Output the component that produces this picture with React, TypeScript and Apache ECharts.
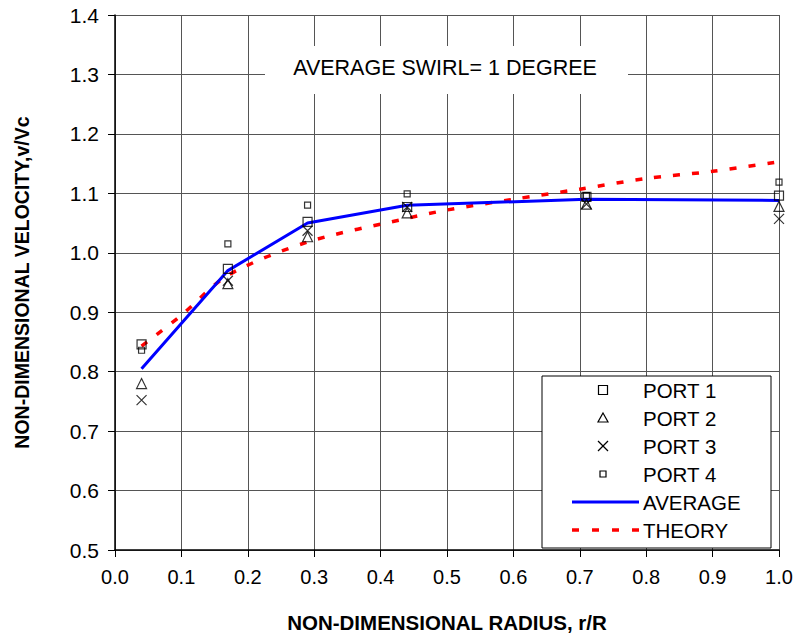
import React, { useEffect, useRef } from "react";
import * as echarts from "echarts";

const X_R = [0.04, 0.17, 0.29, 0.44, 0.71, 1.0];
const PORT1 = [0.846, 0.973, 1.052, 1.077, 1.094, 1.096];
const PORT2 = [0.78, 0.948, 1.027, 1.067, 1.082, 1.078];
const PORT3 = [0.752, 0.953, 1.037, 1.077, 1.082, 1.057];
const PORT4 = [0.836, 1.015, 1.08, 1.099, 1.096, 1.119];
const AVERAGE = [0.805, 0.97, 1.05, 1.08, 1.09, 1.088];
const THEORY_R = [0.04, 0.1, 0.17, 0.29, 0.44, 0.5, 0.6, 0.7, 0.8, 0.9, 1.0];
const THEORY = [0.843, 0.895, 0.962, 1.018, 1.058, 1.072, 1.09, 1.107, 1.125, 1.137, 1.153];
const LEGEND_LABELS = ["PORT 1", "PORT 2", "PORT 3", "PORT 4", "AVERAGE", "THEORY"];
const ANNOTATION = "AVERAGE SWIRL= 1 DEGREE";
const X_TITLE = "NON-DIMENSIONAL RADIUS, r/R";
const Y_TITLE = "NON-DIMENSIONAL VELOCITY,v/Vc";

const FONT = "'Liberation Sans', Arial, sans-serif";
const X_SYMBOL = "path://M0,0L10,10M10,0L0,10";

const pairs = (xs: number[], ys: number[]) => xs.map((x, i) => [x, ys[i]]);

export default function App() {
  const ref = useRef<HTMLDivElement>(null);
  useEffect(() => {
    if (!ref.current) return;
    const chart = echarts.init(ref.current, null, { renderer: "svg" });
    const hollow = { color: "rgba(0,0,0,0)", borderColor: "#000", borderWidth: 1.2 };

    const lx = 603;
    const tx = 643;
    const rows = [390, 418, 446, 474, 502, 530];
    const legendGraphics: any[] = [
      {
        type: "rect",
        shape: { x: 542, y: 376, width: 229, height: 172 },
        style: { fill: "#fff", stroke: "#000", lineWidth: 1 },
        z: 10,
      },
      {
        type: "rect",
        shape: { x: lx - 4.5, y: rows[0] - 4.5, width: 9, height: 9 },
        style: { fill: "none", stroke: "#000", lineWidth: 1.2 },
        z: 11,
      },
      {
        type: "polygon",
        shape: { points: [[lx, rows[1] - 5], [lx + 5, rows[1] + 4], [lx - 5, rows[1] + 4]] },
        style: { fill: "none", stroke: "#000", lineWidth: 1.2 },
        z: 11,
      },
      {
        type: "line",
        shape: { x1: lx - 5, y1: rows[2] - 5, x2: lx + 5, y2: rows[2] + 5 },
        style: { stroke: "#000", lineWidth: 1.2 },
        z: 11,
      },
      {
        type: "line",
        shape: { x1: lx + 5, y1: rows[2] - 5, x2: lx - 5, y2: rows[2] + 5 },
        style: { stroke: "#000", lineWidth: 1.2 },
        z: 11,
      },
      {
        type: "rect",
        shape: { x: lx - 3, y: rows[3] - 3, width: 6, height: 6 },
        style: { fill: "none", stroke: "#000", lineWidth: 1.2 },
        z: 11,
      },
      {
        type: "line",
        shape: { x1: 572, y1: rows[4], x2: 639, y2: rows[4] },
        style: { stroke: "#0000FF", lineWidth: 3 },
        z: 11,
      },
      {
        type: "line",
        shape: { x1: 572, y1: rows[5], x2: 639, y2: rows[5] },
        style: { stroke: "#FF0000", lineWidth: 3.5, lineDash: [7, 13] },
        z: 11,
      },
      ...LEGEND_LABELS.map((t, i) => ({
        type: "text",
        x: tx,
        y: rows[i],
        style: {
          text: t,
          fill: "#000",
          font: `20.5px ${FONT}`,
          textVerticalAlign: "middle",
          textAlign: "left",
        },
        z: 11,
      })),
    ];

    chart.setOption({
      animation: false,
      backgroundColor: "#fff",
      grid: { left: 115, right: 17, top: 15, bottom: 83, show: false },
      xAxis: {
        type: "value",
        min: 0,
        max: 1,
        interval: 0.1,
        name: X_TITLE,
        nameLocation: "middle",
        nameGap: 62,
        nameTextStyle: { fontFamily: FONT, fontWeight: "bold", fontSize: 20.5, color: "#000" },
        axisLine: { show: true, lineStyle: { color: "#000", width: 1.5 } },
        axisTick: { show: true, length: 7, lineStyle: { color: "#000" } },
        axisLabel: {
          formatter: (v: number) => v.toFixed(1),
          fontFamily: FONT,
          fontSize: 20,
          color: "#000",
          margin: 17,
        },
        splitLine: { show: true, lineStyle: { color: "#555", width: 1 } },
      },
      yAxis: {
        type: "value",
        min: 0.5,
        max: 1.4,
        interval: 0.1,
        name: Y_TITLE,
        nameLocation: "middle",
        nameGap: 83,
        nameTextStyle: { fontFamily: FONT, fontWeight: "bold", fontSize: 19.5, color: "#000" },
        axisLine: { show: true, lineStyle: { color: "#000", width: 1.5 } },
        axisTick: { show: true, length: 7, lineStyle: { color: "#000" } },
        axisLabel: {
          formatter: (v: number) => v.toFixed(1),
          fontFamily: FONT,
          fontSize: 21,
          color: "#000",
          margin: 16,
        },
        splitLine: { show: true, lineStyle: { color: "#555", width: 1 } },
      },
      graphic: [
        {
          type: "rect",
          shape: { x: 265, y: 46, width: 363, height: 48 },
          style: { fill: "#fff" },
          z: 1,
        },
        {
          type: "text",
          x: 445,
          y: 68,
          style: {
            text: ANNOTATION,
            fill: "#000",
            font: `21.5px ${FONT}`,
            textAlign: "center",
            textVerticalAlign: "middle",
          },
          z: 2,
        },
        ...legendGraphics,
      ],
      series: [
        {
          name: "THEORY",
          type: "line",
          data: pairs(THEORY_R, THEORY),
          showSymbol: false,
          smooth: 0.3,
          lineStyle: { color: "#FF0000", width: 3.5, type: [7, 12] },
          z: 3,
        },
        {
          name: "AVERAGE",
          type: "line",
          data: pairs(X_R, AVERAGE),
          showSymbol: false,
          lineStyle: { color: "#0000FF", width: 3 },
          z: 4,
        },
        {
          name: "PORT 1",
          type: "scatter",
          data: pairs(X_R, PORT1),
          symbol: "rect",
          symbolSize: 9,
          itemStyle: hollow,
          z: 5,
        },
        {
          name: "PORT 2",
          type: "scatter",
          data: pairs(X_R, PORT2),
          symbol: "triangle",
          symbolSize: 10,
          itemStyle: hollow,
          z: 5,
        },
        {
          name: "PORT 3",
          type: "scatter",
          data: pairs(X_R, PORT3),
          symbol: X_SYMBOL,
          symbolSize: 10,
          itemStyle: hollow,
          z: 5,
        },
        {
          name: "PORT 4",
          type: "scatter",
          data: pairs(X_R, PORT4),
          symbol: "rect",
          symbolSize: 6,
          itemStyle: hollow,
          z: 5,
        },
      ],
    });
    return () => chart.dispose();
  }, []);
  return (
    <div
      ref={ref}
      style={{ position: "absolute", left: 0, top: 0, width: 796, height: 638 }}
    />
  );
}
